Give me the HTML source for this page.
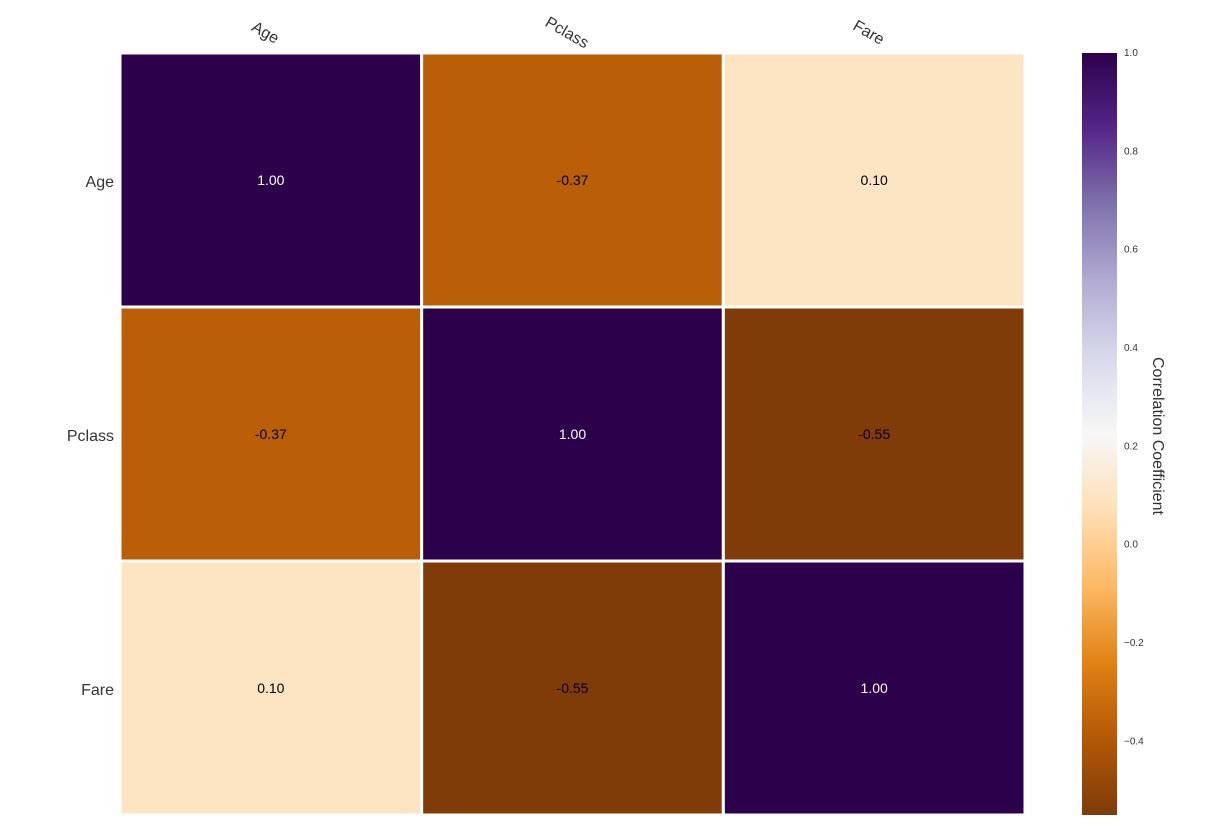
<!DOCTYPE html>
<html><head><meta charset="utf-8"><style>
body{margin:0;background:#fff;}
svg{display:block;font-family:"Liberation Sans",sans-serif;}
</style></head><body>
<svg id="chart" width="1220" height="833">
<defs>
<linearGradient id="cbgrad" x1="0" y1="1" x2="0" y2="0">
<stop offset="0" stop-color="#7f3b08"/><stop offset="0.1" stop-color="#b35806"/><stop offset="0.2" stop-color="#e08214"/><stop offset="0.3" stop-color="#fdb863"/><stop offset="0.4" stop-color="#fee0b6"/><stop offset="0.5" stop-color="#f7f7f7"/><stop offset="0.6" stop-color="#d8daeb"/><stop offset="0.7" stop-color="#b2abd2"/><stop offset="0.8" stop-color="#8073ac"/><stop offset="0.9" stop-color="#542788"/><stop offset="1" stop-color="#2d004b"/>
</linearGradient>
</defs>
</svg>
<script>
const categories = ["Age","Pclass","Fare"];
const matrix = [[1.00,-0.37,0.10],[-0.37,1.00,-0.55],[0.10,-0.55,1.00]];
const cbTicks = [1.0,0.8,0.6,0.4,0.2,0.0,-0.2,-0.4];
const vmin = -0.55, vmax = 1.0;

const NS="http://www.w3.org/2000/svg";
const svg=document.getElementById('chart');
const X0=120,X1=1025,Y0=53,Y1=815;
const cw=(X1-X0)/categories.length, ch=(Y1-Y0)/categories.length;
const stops=["#7f3b08","#b35806","#e08214","#fdb863","#fee0b6","#f7f7f7","#d8daeb","#b2abd2","#8073ac","#542788","#2d004b"];
function hex(h){return [1,3,5].map(i=>parseInt(h.substr(i,2),16));}
function color(v){let t=(v-vmin)/(vmax-vmin);t=Math.max(0,Math.min(1,t))*10;let i=Math.min(9,Math.floor(t));let f=t-i;
 const a=hex(stops[i]),b=hex(stops[i+1]);return "rgb("+a.map((c,k)=>Math.round(c+(b[k]-c)*f)).join(",")+")";}
function mk(tag,attrs){const e=document.createElementNS(NS,tag);for(const k in attrs)e.setAttribute(k,attrs[k]);svg.appendChild(e);return e;}
matrix.forEach((row,r)=>row.forEach((v,c)=>{
 const rect=mk('rect',{x:X0+c*cw,y:Y0+r*ch,width:cw,height:ch,fill:color(v),stroke:'#fff','stroke-width':3});
 
 
 const t=mk('text',{x:X0+(c+0.5)*cw,y:Y0+(r+0.5)*ch+5,'text-anchor':'middle','font-size':14,fill:v>0.6?'#fff':'#000'});
 t.textContent=v.toFixed(2);
 
 
}));
categories.forEach((name,i)=>{
 const cx=X0+(i+0.5)*cw-8;
 const t=mk('text',{x:cx,y:37,'text-anchor':'middle','font-size':16,fill:'#333',transform:`rotate(30 ${cx} 37)`});
 t.textContent=name;
 
 
 const y=mk('text',{x:114,y:Y0+(i+0.5)*ch+7,'text-anchor':'end','font-size':16,fill:'#333'});
 y.textContent=name;
 
 
});
const CB0=1082,CBW=35;
function cy(v){return Y0+(vmax-v)/(vmax-vmin)*(Y1-Y0);}
const cb=mk('rect',{x:CB0,y:Y0,width:CBW,height:Y1-Y0,fill:'url(#cbgrad)'});


cbTicks.forEach(v=>{
 const t=mk('text',{x:CB0+CBW+7,y:cy(v)+3,'font-size':10,fill:'#333'});
 t.textContent=(v<0?'\u2212':'')+Math.abs(v).toFixed(1);
 
 
});
const lbl=mk('text',{x:1153,y:436,'text-anchor':'middle','font-size':16,fill:'#333',transform:'rotate(90 1153 436)'});
lbl.textContent='Correlation Coefficient';


</script>
</body></html>
